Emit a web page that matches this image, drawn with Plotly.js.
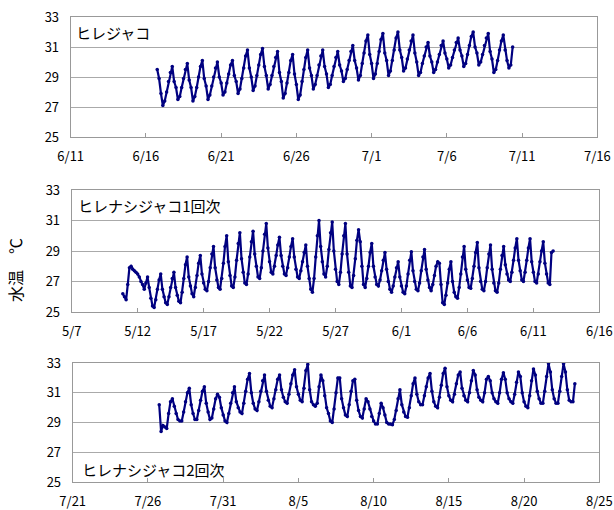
<!DOCTYPE html>
<html>
<head>
<meta charset="utf-8">
<script src="https://cdn.plot.ly/plotly-3.0.1.min.js"></script>
<style>html,body{margin:0;padding:0;background:#fff;}#chart{width:614px;height:510px;}</style>
</head>
<body>
<div id="chart"></div>
<script>
// Readings every 3 hours (0,3,6,9,12,15,18,21 h), one row per day
const YEAR = 2009;
const HOURS = [0, 3, 6, 9, 12, 15, 18, 21];

const p1Name = 'ヒレジャコ';
const p1Start = '6/16';
const p1Rows = [
  [null,null,null,null,null,null,29.5,28.9],
  [27.9,27.1,27.4,28.0,28.7,29.3,29.7,28.7],
  [28.3,27.5,27.7,28.3,28.9,29.5,29.9,28.8],
  [28.3,27.4,27.7,28.3,29.0,29.7,30.1,28.9],
  [28.4,27.5,27.8,28.4,29.0,29.6,30.0,29.0],
  [28.6,27.8,28.0,28.6,29.2,29.8,30.1,29.1],
  [28.7,27.9,28.2,28.9,29.6,30.4,30.8,29.6],
  [29.0,28.1,28.4,29.1,29.8,30.5,30.9,29.7],
  [29.1,28.2,28.5,29.1,29.7,30.3,30.7,29.3],
  [28.7,27.6,27.9,28.6,29.3,30.1,30.5,29.2],
  [28.5,27.5,27.8,28.7,29.5,30.3,30.8,29.6],
  [29.1,28.2,28.5,29.1,29.8,30.4,30.8,29.7],
  [29.2,28.3,28.5,29.1,29.7,30.3,30.7,29.8],
  [29.4,28.7,28.9,29.5,30.1,30.7,31.1,30.1],
  [29.6,28.8,29.1,29.9,30.6,31.4,31.8,30.5],
  [29.9,28.9,29.2,29.9,30.7,31.5,31.9,30.6],
  [30.1,29.1,29.4,30.1,30.8,31.6,32.0,30.8],
  [30.3,29.4,29.6,30.2,30.8,31.4,31.8,30.6],
  [30.0,29.1,29.3,29.9,30.4,31.0,31.3,30.4],
  [30.0,29.3,29.5,30.0,30.5,31.1,31.4,30.6],
  [30.2,29.6,29.8,30.3,30.8,31.3,31.6,30.8],
  [30.4,29.7,29.9,30.5,31.1,31.7,32.0,31.0],
  [30.6,29.8,30.0,30.5,31.1,31.6,31.9,30.7],
  [30.2,29.3,29.5,30.1,30.8,31.4,31.8,30.8],
  [30.1,29.6,29.8,31.0,null,null,null,null]
];
const p1Ticks = ['6/11','6/16','6/21','6/26','7/1','7/6','7/11','7/16'];

const p2Name = 'ヒレナシジャコ1回次';
const p2Start = '5/10';
const p2Rows = [
  [null,null,null,null,null,null,null,26.2],
  [26.0,25.8,26.8,27.9,28.0,27.8,27.7,27.6],
  [27.5,27.3,27.0,26.8,26.5,26.9,27.3,26.6],
  [25.9,25.4,25.3,25.8,26.5,27.1,27.5,26.5],
  [26.0,25.6,25.5,26.0,26.6,27.2,27.6,26.6],
  [26.1,25.7,25.6,26.3,27.2,28.1,28.6,27.3],
  [26.7,26.2,26.0,26.6,27.4,28.2,28.7,27.5],
  [26.9,26.5,26.4,27.0,27.9,28.8,29.3,27.9],
  [27.1,26.6,26.5,27.2,28.2,29.3,30.0,28.3],
  [27.4,26.7,26.6,27.3,28.4,29.5,30.2,28.5],
  [27.6,26.9,26.8,27.5,28.6,29.6,30.3,28.8],
  [28.0,27.3,27.2,27.9,29.0,30.1,30.8,29.2],
  [28.3,27.6,27.5,28.0,28.7,29.4,29.9,28.7],
  [28.0,27.5,27.4,27.9,28.6,29.3,29.8,28.6],
  [27.8,27.3,27.2,27.7,28.3,28.9,29.4,28.0],
  [27.2,26.5,26.3,27.2,28.6,30.0,31.0,29.3],
  [28.3,27.5,27.3,28.0,29.1,30.2,30.9,29.0],
  [27.8,27.0,26.8,27.6,28.8,30.0,30.8,28.8],
  [27.6,26.7,26.6,27.4,28.5,29.7,30.4,29.6],
  [28.0,26.8,26.6,27.2,28.0,28.9,29.5,28.0],
  [27.3,26.8,26.7,27.1,27.7,28.4,28.9,27.8],
  [27.0,26.5,26.3,26.7,27.3,27.9,28.3,27.3],
  [26.7,26.3,26.2,26.7,27.5,28.4,28.95,27.7],
  [27.0,26.5,26.4,26.9,27.7,28.6,29.1,27.8],
  [27.1,26.6,26.4,26.8,27.4,28.0,28.3,28.2],
  [26.8,25.6,25.5,26.1,26.9,27.8,28.3,27.0],
  [26.3,26.0,25.9,26.6,27.5,28.6,29.3,27.8],
  [27.1,26.6,26.55,27.2,28.0,28.9,29.55,27.9],
  [27.0,26.5,26.4,27.0,27.9,28.8,29.4,27.8],
  [26.9,26.4,26.3,26.9,27.8,28.7,29.3,28.1],
  [27.5,27.1,27.0,27.6,28.4,29.2,29.8,28.4],
  [27.7,27.1,27.0,27.6,28.4,29.2,29.8,28.3],
  [27.6,27.0,26.9,27.5,28.3,29.0,29.6,28.2],
  [27.5,26.9,26.8,28.9,29.0,null,null,null]
];
const p2Ticks = ['5/7','5/12','5/17','5/22','5/27','6/1','6/6','6/11','6/16'];

const p3Name = 'ヒレナシジャコ2回次';
const p3Start = '7/26';
const p3Rows = [
  [null,null,null,null,null,null,30.2,28.4],
  [28.8,28.7,28.6,29.6,30.4,30.6,30.1,29.6],
  [29.2,29.1,29.1,29.7,30.4,31.0,31.3,30.2],
  [29.6,29.2,29.2,29.8,30.5,31.1,31.4,30.3],
  [29.7,29.2,29.3,29.9,30.6,30.9,30.7,30.0],
  [29.5,29.1,29.0,29.6,30.3,31.0,31.4,30.4],
  [30.0,29.7,29.6,30.3,31.1,31.9,32.3,31.0],
  [30.3,29.9,29.8,30.4,31.1,31.8,32.2,31.1],
  [30.5,30.1,30.0,30.6,31.2,31.9,32.2,31.2],
  [30.7,30.4,30.3,30.9,31.6,32.2,32.55,31.4],
  [30.9,30.5,30.4,31.3,32.5,32.9,31.2,30.4],
  [30.2,30.1,30.3,31.4,32.2,31.8,30.8,30.0],
  [29.6,29.1,29.0,29.9,31.0,32.0,32.0,30.6],
  [30.0,29.5,29.4,30.2,31.1,31.8,31.9,30.5],
  [29.8,29.4,29.3,29.9,30.6,30.4,29.9,29.4],
  [29.1,28.9,28.9,29.6,30.3,30.0,29.5,29.0],
  [28.9,28.9,28.85,29.2,29.8,30.6,31.2,30.2],
  [29.7,29.4,29.35,30.0,30.8,31.6,32.0,30.9],
  [30.4,30.2,30.2,30.8,31.4,32.0,32.3,31.1],
  [30.4,30.1,30.0,30.7,31.5,32.3,32.65,31.4],
  [30.8,30.5,30.4,30.9,31.6,32.2,32.4,31.3],
  [30.8,30.5,30.4,31.0,31.8,32.5,32.2,31.2],
  [30.7,30.5,30.4,31.0,31.9,32.1,31.8,31.0],
  [30.6,30.4,30.3,31.0,31.9,32.35,31.9,31.0],
  [30.6,30.4,30.3,30.9,31.7,32.4,32.1,31.0],
  [30.4,30.1,30.0,30.8,31.8,32.6,32.2,31.1],
  [30.6,30.3,30.3,31.1,32.1,32.95,32.4,31.2],
  [30.6,30.3,30.3,31.1,32.1,32.95,32.4,31.2],
  [30.5,30.4,30.4,31.6,null,null,null,null]
];
const p3Ticks = ['7/21','7/26','7/31','8/5','8/10','8/15','8/20','8/25'];

const yTitle = '水温　℃';
const yTicks = [25, 27, 29, 31, 33];

function md(label, addDays, addHours) {
  const [m, d] = label.split('/').map(Number);
  const dt = new Date(Date.UTC(YEAR, m - 1, d + (addDays || 0), addHours || 0));
  return dt.toISOString().slice(0, 16).replace('T', ' ');
}
function series(start, rows) {
  const x = [], y = [];
  rows.forEach((row, i) => row.forEach((v, j) => {
    if (v !== null) { x.push(md(start, i, HOURS[j])); y.push(v); }
  }));
  return {x, y};
}

const COLOR = '#000080';
const FONT = '"Noto Sans CJK JP", "Liberation Sans", sans-serif';
const panels = [
  {rows: p1Rows, start: p1Start, ticks: p1Ticks, xd: [70.7, 597.3], yd: [17, 137]},
  {rows: p2Rows, start: p2Start, ticks: p2Ticks, xd: [71.7, 599.3], yd: [190, 312]},
  {rows: p3Rows, start: p3Start, ticks: p3Ticks, xd: [72.7, 599.3], yd: [363, 482]}
];
const W = 614, H = 510;
const data = [];
const layout = {
  width: W, height: H, margin: {l: 0, r: 0, t: 0, b: 0},
  paper_bgcolor: '#fff', plot_bgcolor: '#fff', showlegend: false,
  font: {family: FONT, size: 13, color: '#000'},
  annotations: []
};
panels.forEach((p, k) => {
  const s = series(p.start, p.rows);
  const sfx = k === 0 ? '' : String(k + 1);
  data.push({
    type: 'scatter', mode: 'lines+markers', x: s.x, y: s.y,
    xaxis: 'x' + sfx, yaxis: 'y' + sfx,
    line: {color: COLOR, width: 2.2},
    marker: {color: COLOR, size: 3.5},
    hoverinfo: 'skip'
  });
  const tv = p.ticks.map(t => md(t));
  layout['xaxis' + sfx] = {
    type: 'date', domain: [p.xd[0] / W, p.xd[1] / W],
    range: [tv[0], tv[tv.length - 1]],
    tickmode: 'array', tickvals: tv, ticktext: p.ticks,
    ticks: 'inside', ticklen: 4, tickcolor: '#999',
    showgrid: false, zeroline: false,
    showline: true, mirror: true, linecolor: '#999', linewidth: 1,
    tickfont: {family: FONT, size: 13, color: '#000'},
    ticklabelstandoff: 7,
    anchor: 'y' + sfx, automargin: false, fixedrange: true
  };
  layout['yaxis' + sfx] = {
    domain: [1 - p.yd[1] / H, 1 - p.yd[0] / H],
    range: [25, 33], tickmode: 'array', tickvals: yTicks,
    ticktext: yTicks.map(String),
    showgrid: true, gridcolor: '#aaa', gridwidth: 1, zeroline: false,
    showline: true, mirror: true, linecolor: '#999', linewidth: 1,
    ticks: '', tickfont: {family: FONT, size: 13, color: '#000'},
    ticklabelstandoff: 8,
    anchor: 'x' + sfx, automargin: false, fixedrange: true
  };
});
const titleFont = {family: FONT, size: 15, color: '#000'};
layout.annotations.push(
  {text: p1Name, xref: 'paper', yref: 'paper', x: 74 / W, y: 1 - 32 / H, xanchor: 'left', yanchor: 'middle', showarrow: false, font: titleFont},
  {text: p2Name, xref: 'paper', yref: 'paper', x: 76 / W, y: 1 - 205.5 / H, xanchor: 'left', yanchor: 'middle', showarrow: false, font: titleFont},
  {text: p3Name, xref: 'paper', yref: 'paper', x: 80 / W, y: 1 - 469 / H, xanchor: 'left', yanchor: 'middle', showarrow: false, font: titleFont},
  {text: yTitle, xref: 'paper', yref: 'paper', x: 15 / W, y: 1 - 270 / H, xanchor: 'center', yanchor: 'middle', textangle: -90, showarrow: false, font: {family: FONT, size: 16, color: '#000'}}
);
Plotly.newPlot('chart', data, layout, {staticPlot: true, displayModeBar: false});
</script>
</body>
</html>
